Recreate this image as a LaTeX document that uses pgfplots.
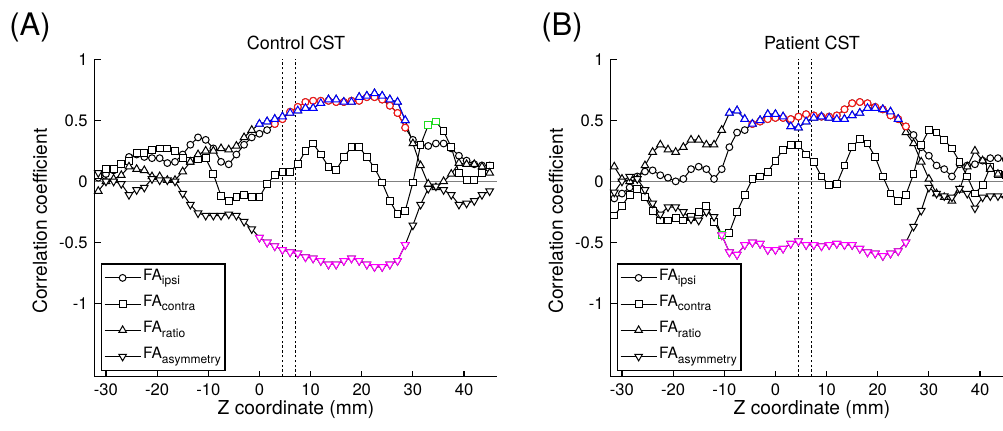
\documentclass[border=0pt]{standalone}
\usepackage{pgfplots}
\pgfplotsset{compat=1.18}
\usepackage{pgfplotstable}
\usepackage{fontspec}
\setmainfont{TeX Gyre Heros}

% z ipsi contra ratio asym, control CST
\pgfplotstableread{
z ipsi contra ratio asym
-31.5  0.03  0.05 -0.08  0.07
-30    0.06  0.10  0.00  0.00
-28.5  0.09  0.10  0.02  0.00
-27    0.14  0.14  0.05 -0.02
-25.5  0.20  0.17  0.12 -0.11
-24    0.22  0.23  0.10 -0.07
-22.5  0.20  0.23  0.09 -0.05
-21    0.19  0.26  0.04  0.02
-19.5  0.19  0.27  0.04  0.01
-18    0.15  0.27  0.01  0.01
-16.5  0.16  0.25  0.01  0.00
-15    0.22  0.19  0.08 -0.10
-13.5  0.30  0.17  0.16 -0.19
-12    0.36  0.18  0.22 -0.26
-10.5  0.34  0.19  0.25 -0.28
-9     0.27  0.06  0.25 -0.28
-7.5   0.16 -0.12  0.27 -0.28
-6     0.14 -0.16  0.26 -0.27
-4.5   0.22 -0.13  0.29 -0.28
-3     0.30 -0.11  0.36 -0.33
-1.5   0.36 -0.13  0.42 -0.39
0      0.39 -0.13  0.47 -0.46
1.5    0.42 -0.02  0.49 -0.50
3      0.47  0.05  0.51 -0.53
4.5    0.51  0.08  0.53 -0.56
6      0.57  0.08  0.56 -0.58
7.5    0.61  0.14  0.58 -0.59
9      0.65  0.25  0.60 -0.62
10.5   0.66  0.31  0.60 -0.63
12     0.66  0.22  0.64 -0.65
13.5   0.66  0.12  0.67 -0.68
15     0.65  0.09  0.67 -0.68
16.5   0.65  0.20  0.65 -0.65
18     0.66  0.28  0.65 -0.63
19.5   0.66  0.28  0.69 -0.65
21     0.69  0.20  0.70 -0.68
22.5   0.69  0.11  0.72 -0.70
24     0.67 -0.01  0.70 -0.70
25.5   0.62 -0.16  0.67 -0.68
27     0.56 -0.27  0.65 -0.65
28.5   0.44 -0.24  0.50 -0.52
30     0.34 -0.01  0.31 -0.36
31.5   0.30  0.30  0.13 -0.19
33     0.29  0.46 -0.02 -0.06
34.5   0.31  0.49 -0.05 -0.04
36     0.31  0.41  0.00 -0.07
37.5   0.27  0.28  0.06 -0.11
39     0.21  0.07  0.15 -0.19
40.5   0.17  0.01  0.14 -0.18
42     0.14  0.01  0.14 -0.16
43.5   0.13  0.07  0.12 -0.11
45     0.13  0.13  0.07 -0.08
}\ctrl

% patient CST
\pgfplotstableread{
z ipsi contra ratio asym
-31.5 -0.14 -0.28  0.12 -0.09
-30   -0.10 -0.20  0.02  0.00
-28.5 -0.05 -0.11  0.00  0.04
-27    0.04 -0.06  0.02  0.02
-25.5  0.08 -0.13  0.13 -0.07
-24    0.09 -0.24  0.24 -0.18
-22.5  0.05 -0.32  0.30 -0.27
-21    0.03 -0.32  0.26 -0.21
-19.5  0.00 -0.30  0.24 -0.21
-18    0.02 -0.32  0.28 -0.25
-16.5  0.10 -0.29  0.34 -0.31
-15    0.12 -0.25  0.34 -0.32
-13.5  0.10 -0.20  0.30 -0.25
-12    0.02 -0.33  0.30 -0.29
-10.5  0.10 -0.44  0.42 -0.44
-9     0.28 -0.42  0.56 -0.58
-7.5   0.40 -0.25  0.58 -0.60
-6     0.42 -0.11  0.51 -0.52
-4.5   0.47  0.02  0.47 -0.50
-3     0.49  0.04  0.50 -0.51
-1.5   0.51  0.08  0.55 -0.56
0      0.52  0.17  0.55 -0.56
1.5    0.52  0.26  0.53 -0.55
3      0.51  0.30  0.45 -0.51
4.5    0.53  0.30  0.44 -0.49
6      0.55  0.22  0.49 -0.52
7.5    0.54  0.16  0.52 -0.52
9      0.53  0.04  0.53 -0.53
10.5   0.53 -0.03  0.52 -0.52
12     0.54 -0.02  0.51 -0.51
13.5   0.59  0.13  0.51 -0.52
15     0.64  0.28  0.54 -0.52
16.5   0.65  0.35  0.56 -0.55
18     0.64  0.31  0.60 -0.58
19.5   0.61  0.20  0.60 -0.59
21     0.59  0.04  0.59 -0.61
22.5   0.54 -0.10  0.57 -0.59
24     0.51 -0.16  0.51 -0.57
25.5   0.45 -0.11  0.40 -0.50
27     0.38  0.06  0.31 -0.37
28.5   0.28  0.30  0.16 -0.24
30     0.21  0.42  0.02 -0.05
31.5   0.13  0.40 -0.10 -0.10
33     0.10  0.34 -0.13 -0.12
34.5   0.04  0.27 -0.16 -0.13
36     0.14  0.16 -0.07 -0.06
37.5   0.13  0.04  0.12 -0.10
39     0.14 -0.10  0.25 -0.22
40.5   0.17 -0.03  0.17 -0.13
42     0.19  0.12  0.10 -0.12
43.5   0.19  0.06  0.06 -0.12
45     0.18  0.05  0.05 -0.14
}\pat

\definecolor{cred}{RGB}{255,20,20}
\definecolor{cblue}{RGB}{0,0,255}
\definecolor{cmag}{RGB}{255,0,255}
\definecolor{cgreen}{RGB}{30,220,30}

% legend subscript, larger and lower than \textsubscript
\newcommand\sub[1]{\raisebox{-2.2pt}{\fontsize{6}{6}\selectfont #1}}

\pgfplotsset{
  panel/.style={
    scale only axis, width=201.3pt, height=158.7pt,
    xmin=-32.2, xmax=46.5, ymin=-1.6, ymax=1,
    axis x line*=bottom, axis y line*=left,
    axis line style={line width=0.7pt},
    tick align=inside, major tick length=3pt,
    tick style={line width=0.6pt, black},
    xtick={-30,-20,...,40}, ytick={-1,-0.5,0,0.5,1},
    /pgf/number format/assume math mode=true,
    ticklabel style={font=\fontsize{8.3}{10}\selectfont},
    label style={font=\fontsize{9.6}{11}\selectfont},
    xlabel={Z coordinate (mm)}, ylabel={Correlation coefficient},
    xlabel style={at={(axis description cs:0.5,-0.105)}, anchor=center},
    ylabel style={at={(axis description cs:-0.136,0.49)}, anchor=center},
    title style={font=\fontsize{9}{11}\selectfont, anchor=base, yshift=-1.15pt},
    legend cell align=left,
    legend style={at={(0.0156,0.0175)}, anchor=south west, draw=black, line width=0.75pt,
      font=\fontsize{7.8}{9}\selectfont, row sep=1.6pt, inner sep=1.2pt,
      nodes={inner sep=1pt, text height=6pt, text depth=3.5pt}},
    legend image code/.code={\draw[mark repeat=2,mark phase=2,#1]
      plot coordinates {(0pt,0pt) (9pt,0pt) (18pt,0pt)};},
  },
  ser/.style={line width=0.5pt, #1},
  mk/.style={mark options={solid, fill=white, draw=#1, line width=0.5pt}},
  ipsiS/.style={ser=#1, mark=*, mark size=1.7pt, mk=#1},
  contraS/.style={ser=#1, mark=square*, mark size=1.7pt, mk=#1},
  ratioS/.style={ser=#1, mark=triangle*, mark size=2.2pt, mk=#1},
  asymS/.style={ser=#1, mark=triangle*, mark size=2.2pt,
    mark options={solid, fill=white, draw=#1, line width=0.5pt, rotate=180}},
}

% #1 table, #2 red ipsi range, #3 green contra range, #4 blue ratio range, #5 magenta asym range
\newcommand\allseries[5]{%
  \addplot[gray, line width=0.5pt, forget plot] coordinates {(-32.2,0) (46.5,0)};
  \addplot[black, line width=0.5pt, dash pattern=on 1.2pt off 1.2pt, forget plot] coordinates {(4.6,-1.6) (4.6,1)};
  \addplot[black, line width=0.5pt, dash pattern=on 1.2pt off 1.2pt, forget plot] coordinates {(7.1,-1.6) (7.1,1)};
  \addplot[ipsiS=black] table[x=z, y=ipsi] {#1};
  \addlegendentry{FA\sub{ipsi}}
  \addplot[contraS=black] table[x=z, y=contra] {#1};
  \addlegendentry{FA\sub{contra}}
  \addplot[ratioS=black] table[x=z, y=ratio] {#1};
  \addlegendentry{FA\sub{ratio}}
  \addplot[asymS=black] table[x=z, y=asym] {#1};
  \addlegendentry{FA\sub{asymmetry}}
  \addplot[ipsiS=cred, restrict x to domain=#2, forget plot] table[x=z, y=ipsi] {#1};
  \addplot[contraS=cgreen, restrict x to domain=#3, forget plot] table[x=z, y=contra] {#1};
  \addplot[ratioS=cblue, restrict x to domain=#4, forget plot] table[x=z, y=ratio] {#1};
  \addplot[asymS=cmag, restrict x to domain=#5, forget plot] table[x=z, y=asym] {#1};
}

\begin{document}
\begin{tikzpicture}
\begin{axis}[panel, at={(47.35pt,-188.35pt)}, anchor=south west, title={Control CST}]
\allseries{\ctrl}{2.9:28.6}{32.9:34.6}{-0.1:28.6}{-0.1:28.6}
\end{axis}
\begin{axis}[panel, at={(305.35pt,-188.35pt)}, anchor=south west, title={Patient CST}]
\allseries{\pat}{-4.6:25.6}{-10.6:-10.4}{-9.1:24.1}{-10.6:25.6}
\end{axis}
\node[anchor=base west, font=\fontsize{15.5}{18}\selectfont, inner sep=0pt] at (4.5pt,-18pt) {(A)};
\node[anchor=base west, font=\fontsize{15.5}{18}\selectfont, inner sep=0pt] at (270.5pt,-18pt) {(B)};
\pgfresetboundingbox
\path[use as bounding box] (0,0) rectangle (501.5pt,-215.5pt);
\end{tikzpicture}
\end{document}
